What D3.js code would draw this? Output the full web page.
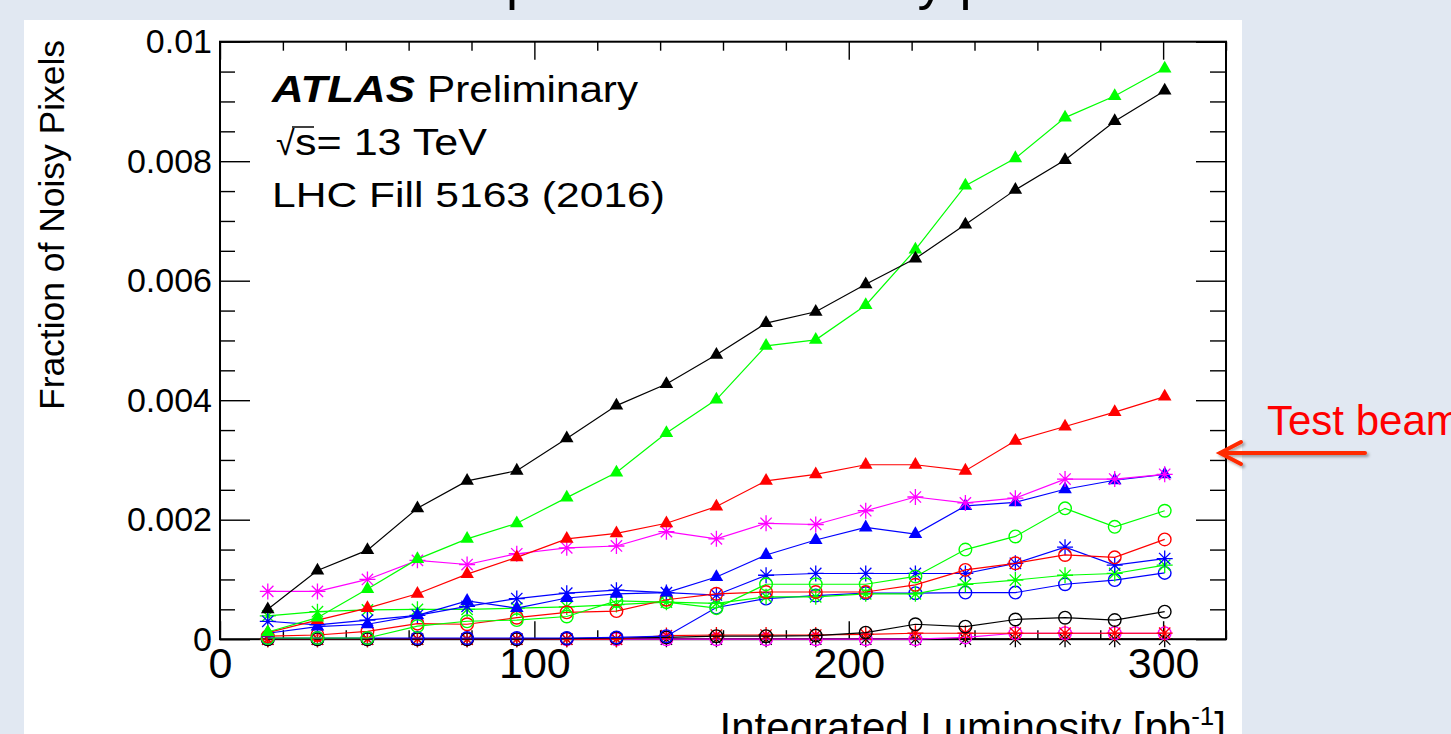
<!DOCTYPE html>
<html>
<head>
<meta charset="utf-8">
<script src="https://cdn.jsdelivr.net/npm/d3@7"></script>
<style>
  body { margin: 0; background: #e1e8f2; }
  svg { display: block; font-family: "Liberation Sans", Arial, Helvetica, sans-serif; }
</style>
</head>
<body>
<script>
// integrated luminosity of each point [pb^-1]
const lumi = [15.2, 31.0, 46.9, 62.8, 78.6, 94.4, 110.3, 126.1, 142.0, 157.9,
              173.7, 189.5, 205.4, 221.2, 237.1, 253.0, 268.8, 284.6, 300.5];

// fraction of noisy pixels, one array per curve
const blackTri = [0.00050, 0.00115, 0.00149, 0.00219, 0.00265, 0.00282, 0.00336, 0.00391, 0.00427, 0.00476,
                  0.00529, 0.00548, 0.00594, 0.00637, 0.00694, 0.00752, 0.00802, 0.00867, 0.00918];
const greenTri = [0.00012, 0.00036, 0.00084, 0.00134, 0.00168, 0.00194, 0.00237, 0.00279, 0.00345, 0.00401,
                  0.00491, 0.00501, 0.00559, 0.00652, 0.00759, 0.00805, 0.00873, 0.00909, 0.00955];
const redTri = [0.00011, 0.00032, 0.00052, 0.00076, 0.00109, 0.00137, 0.00168, 0.00177, 0.00194, 0.00222,
                0.00265, 0.00276, 0.00292, 0.00292, 0.00282, 0.00332, 0.00356, 0.00380, 0.00406];
const magentaStar = [0.00080, 0.00080, 0.00100, 0.00132, 0.00125, 0.00143, 0.00153, 0.00156, 0.00180, 0.00168,
                     0.00194, 0.00192, 0.00215, 0.00238, 0.00228, 0.00236, 0.00268, 0.00268, 0.00276];
const blueTri = [0.00010, 0.00021, 0.00025, 0.00040, 0.00064, 0.00052, 0.00069, 0.00076, 0.00078, 0.00104,
                 0.00141, 0.00166, 0.00187, 0.00176, 0.00223, 0.00229, 0.00251, 0.00266, 0.00276];
const greenCircle = [0.00002, 0.00002, 0.00002, 0.00022, 0.00030, 0.00032, 0.00038, 0.00064, 0.00062, 0.00052,
                     0.00092, 0.00092, 0.00092, 0.00105, 0.00150, 0.00172, 0.00219, 0.00188, 0.00215];
const redCircle = [0.00005, 0.00007, 0.00013, 0.00026, 0.00025, 0.00036, 0.00045, 0.00047, 0.00066, 0.00076,
                   0.00079, 0.00079, 0.00079, 0.00091, 0.00116, 0.00127, 0.00141, 0.00137, 0.00167];
const blueStar = [0.00030, 0.00024, 0.00032, 0.00040, 0.00055, 0.00068, 0.00077, 0.00082, 0.00078, 0.00074,
                  0.00107, 0.00110, 0.00110, 0.00110, 0.00110, 0.00127, 0.00154, 0.00124, 0.00135];
const greenStar = [0.00039, 0.00046, 0.00049, 0.00050, 0.00050, 0.00052, 0.00054, 0.00058, 0.00062, 0.00060,
                   0.00071, 0.00071, 0.00076, 0.00076, 0.00092, 0.00099, 0.00107, 0.00110, 0.00124];
const blueCircle = [0.00002, 0.00002, 0.00002, 0.00002, 0.00002, 0.00002, 0.00002, 0.00003, 0.00005, 0.00053,
                    0.00068, 0.00073, 0.00077, 0.00077, 0.00078, 0.00078, 0.00092, 0.00099, 0.00111];
const blackCircle = [0, 0, 0, 0, 0, 0, 0.00001, 0.00002, 0.00003, 0.00005,
                     0.00005, 0.00006, 0.00011, 0.00025, 0.00021, 0.00033, 0.00036, 0.00032, 0.00046];
const redStar = [0, 0, 0, 0, 0, 0, 0, 0, 0.00006, 0.00007,
                 0.00007, 0.00007, 0.00008, 0.00010, 0.00010, 0.00010, 0.00010, 0.00010, 0.00010];
const magentaCircle = [0, 0, 0, 0, 0, 0, 0, 0, 0, 0,
                       0, 0, 0, 0, 0.00003, 0.00010, 0.00010, 0.00010, 0.00010];
const blackStar = [0, 0, 0, 0, 0, 0, 0, 0, 0, 0, 0, 0, 0, 0, 0, 0, 0, 0, 0];

const xMajor = [0, 100, 200, 300];
const xMinor = [20, 40, 60, 80, 120, 140, 160, 180, 220, 240, 260, 280, 320];
const yMajor = [0, 0.002, 0.004, 0.006, 0.008, 0.01];
const yMinor = [0.0005, 0.001, 0.0015, 0.0025, 0.003, 0.0035, 0.0045, 0.005, 0.0055,
                0.0065, 0.007, 0.0075, 0.0085, 0.009, 0.0095];

// drawing order: first drawn ends up underneath
const series = [
  { values: blackStar, color: "#000000", marker: "star" },
  { values: magentaCircle, color: "#ff00ff", marker: "circle" },
  { values: redStar, color: "#ff0000", marker: "star" },
  { values: blackCircle, color: "#000000", marker: "circle" },
  { values: blueCircle, color: "#0000ff", marker: "circle" },
  { values: greenStar, color: "#00ff00", marker: "star" },
  { values: blueStar, color: "#0000ff", marker: "star" },
  { values: redCircle, color: "#ff0000", marker: "circle" },
  { values: greenCircle, color: "#00ff00", marker: "circle" },
  { values: blueTri, color: "#0000ff", marker: "triangle" },
  { values: magentaStar, color: "#ff00ff", marker: "star" },
  { values: redTri, color: "#ff0000", marker: "triangle" },
  { values: greenTri, color: "#00ff00", marker: "triangle" },
  { values: blackTri, color: "#000000", marker: "triangle" }
];

const W = 1451, H = 734;
const svg = d3.select("body").append("svg").attr("width", W).attr("height", H);

const defs = svg.append("defs");
defs.append("filter").attr("id", "shadow")
  .attr("x", "-20%").attr("y", "-50%").attr("width", "140%").attr("height", "200%")
  .append("feDropShadow")
  .attr("dx", 2).attr("dy", 2).attr("stdDeviation", 1.5)
  .attr("flood-color", "#000").attr("flood-opacity", 0.35);

// slide background + white picture
svg.append("rect").attr("width", W).attr("height", H).attr("fill", "#e1e8f2");
svg.append("rect").attr("x", 24).attr("y", 20).attr("width", 1218).attr("height", H - 20).attr("fill", "#fff");

// slide title, mostly cut off at the top
svg.append("text")
  .attr("x", 313).attr("y", -1)
  .attr("font-size", 54)
  .attr("fill", "#000")
  .text("Time dependence of noisy pixels");

const x = d3.scaleLinear().domain([0, 320]).range([220, 1226]);
const y = d3.scaleLinear().domain([0, 0.01]).range([639.2, 41.7]);

function styleAxis(g) {
  g.select(".domain").remove();
  g.selectAll(".tick line").attr("stroke", "#000").attr("stroke-width", 1.4);
}

// bottom axis
svg.append("g").attr("transform", `translate(0,${y(0)})`)
  .call(d3.axisBottom(x).tickValues(xMajor).tickSize(-18).tickPadding(8).tickFormat(d3.format("d")))
  .call(styleAxis)
  .selectAll("text").attr("font-size", 43).attr("fill", "#000").attr("font-family", null);
svg.append("g").attr("transform", `translate(0,${y(0)})`)
  .call(d3.axisBottom(x).tickValues(xMinor).tickSize(-9).tickFormat(""))
  .call(styleAxis);

// top axis
svg.append("g").attr("transform", `translate(0,${y(0.01)})`)
  .call(d3.axisTop(x).tickValues(xMajor).tickSize(-18).tickFormat(""))
  .call(styleAxis);
svg.append("g").attr("transform", `translate(0,${y(0.01)})`)
  .call(d3.axisTop(x).tickValues(xMinor).tickSize(-9).tickFormat(""))
  .call(styleAxis);

// left axis
svg.append("g").attr("transform", `translate(${x(0)},0)`)
  .call(d3.axisLeft(y).tickValues(yMajor).tickSize(-30).tickPadding(8).tickFormat(d => String(+d.toFixed(4))))
  .call(styleAxis)
  .selectAll("text").attr("font-size", 34).attr("fill", "#000").attr("font-family", null);
svg.append("g").attr("transform", `translate(${x(0)},0)`)
  .call(d3.axisLeft(y).tickValues(yMinor).tickSize(-15).tickFormat(""))
  .call(styleAxis);

// right axis
svg.append("g").attr("transform", `translate(${x(320)},0)`)
  .call(d3.axisRight(y).tickValues(yMajor).tickSize(-30).tickFormat(""))
  .call(styleAxis);
svg.append("g").attr("transform", `translate(${x(320)},0)`)
  .call(d3.axisRight(y).tickValues(yMinor).tickSize(-16).tickFormat(""))
  .call(styleAxis);

// frame
svg.append("rect")
  .attr("x", x(0)).attr("y", y(0.01))
  .attr("width", x(320) - x(0)).attr("height", y(0) - y(0.01))
  .attr("fill", "none").attr("stroke", "#000").attr("stroke-width", 2);

// axis titles
svg.append("text")
  .attr("transform", "translate(64,40) rotate(-90)")
  .attr("text-anchor", "end")
  .attr("font-size", 35)
  .attr("textLength", 370).attr("lengthAdjust", "spacingAndGlyphs")
  .text("Fraction of Noisy Pixels");

const xt = svg.append("text")
  .attr("x", 1226).attr("y", 742)
  .attr("text-anchor", "end")
  .attr("font-size", 42);
xt.append("tspan").text("Integrated Luminosity [pb");
xt.append("tspan").attr("font-size", 26).attr("dy", -17).text("-1");
xt.append("tspan").attr("dy", 17).text("]");

// curves
const line = d3.line().x((d, i) => x(lumi[i])).y(d => y(d));
const triangle = d3.symbol(d3.symbolTriangle, 80)();

function starPath(r) {
  const a = r * Math.SQRT1_2;
  return `M${-r},0H${r}M0,${-r}V${r}M${-a},${-a}L${a},${a}M${-a},${a}L${a},${-a}`;
}

const plot = svg.append("g");
series.forEach(s => {
  const g = plot.append("g");
  g.append("path")
    .attr("d", line(s.values))
    .attr("fill", "none")
    .attr("stroke", s.color)
    .attr("stroke-width", 1.2);

  const pts = g.selectAll(".pt").data(s.values).enter().append("g")
    .attr("transform", (d, i) => `translate(${x(lumi[i])},${y(d)})`);

  if (s.marker === "triangle") {
    pts.append("path").attr("d", triangle).attr("fill", s.color);
  } else if (s.marker === "circle") {
    pts.append("circle").attr("r", 6.3).attr("fill", "none")
      .attr("stroke", s.color).attr("stroke-width", 1.4);
  } else {
    pts.append("path").attr("d", starPath(8)).attr("fill", "none")
      .attr("stroke", s.color).attr("stroke-width", 1.3);
  }
});

// ATLAS label
const lab = svg.append("g").attr("fill", "#000");
lab.append("text").attr("x", 272).attr("y", 102)
  .attr("font-size", 37).attr("font-weight", "bold").attr("font-style", "italic")
  .attr("textLength", 143).attr("lengthAdjust", "spacingAndGlyphs")
  .text("ATLAS");
lab.append("text").attr("x", 427).attr("y", 102)
  .attr("font-size", 37)
  .attr("textLength", 211).attr("lengthAdjust", "spacingAndGlyphs")
  .text("Preliminary");
lab.append("text").attr("x", 276).attr("y", 155)
  .attr("font-size", 34)
  .text("\u221A");
lab.append("line").attr("x1", 292).attr("x2", 314).attr("y1", 127).attr("y2", 127)
  .attr("stroke", "#000").attr("stroke-width", 1.5);
lab.append("text").attr("x", 295).attr("y", 155)
  .attr("font-size", 36)
  .attr("textLength", 192).attr("lengthAdjust", "spacingAndGlyphs")
  .text("s= 13 TeV");
lab.append("text").attr("x", 272).attr("y", 207)
  .attr("font-size", 35)
  .attr("textLength", 393).attr("lengthAdjust", "spacingAndGlyphs")
  .text("LHC Fill 5163 (2016)");

// test beam annotation
svg.append("text")
  .attr("x", 1267).attr("y", 435)
  .attr("font-size", 42)
  .attr("fill", "#ff0000")
  .text("Test beam");

const arrow = svg.append("g").attr("filter", "url(#shadow)")
  .attr("stroke", "#ff2a00").attr("stroke-width", 4).attr("fill", "none")
  .attr("stroke-linecap", "round");
arrow.append("line").attr("x1", 1365).attr("y1", 453).attr("x2", 1221).attr("y2", 453);
arrow.append("path").attr("d", "M1241,442L1220,453L1241,464");
</script>
</body>
</html>
